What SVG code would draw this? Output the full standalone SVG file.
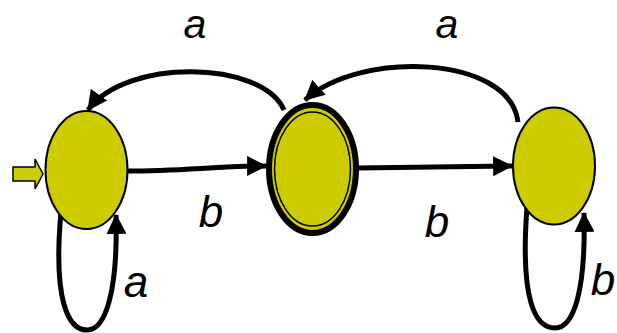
<svg xmlns="http://www.w3.org/2000/svg" width="617" height="333" viewBox="0 0 617 333">
<defs>
<style>
.st{fill:#CCCC00;stroke:#000;stroke-width:2}
.e{fill:none;stroke:#000;stroke-width:5;marker-end:url(#ah)}
.lbl{font-family:"Liberation Sans",Arial,sans-serif;font-style:italic;font-size:44px;fill:#000;text-anchor:middle}
.top{font-size:41px}
</style>
<marker id="ah" markerUnits="userSpaceOnUse" markerWidth="20" markerHeight="20" refX="17" refY="9" orient="auto" viewBox="0 0 18 18">
<path d="M0,0 L18,9 L0,18 Z" fill="#000"/>
</marker>
</defs>
<rect width="617" height="333" fill="#fff"/>
<g id="connectors">
<path class="e" d="M61,212 C53,300 68,330 87,330 C106,330 118,290 116,215"/>
<path class="e" d="M527,207 C520,300 535,328 555,328 C574,328 586,290 584,213"/>
<path class="e" d="M284,110 C262,60 125,58 88,110"/>
<path class="e" d="M518,122 C510,55 360,50 305,100"/>
<path class="e" d="M128,171 C180,171 220,166 266,166"/>
<path class="e" d="M358,168 L512,166"/>
</g>
<g id="start">
<polygon points="13,167 35,167 35,159 43,174 35,189 35,181 13,181" fill="#CCCC00" stroke="#000" stroke-width="1.5"/>
</g>
<g id="q0">
<ellipse class="st" cx="86.5" cy="170" rx="41" ry="59"/>
</g>
<g id="q1">
<ellipse cx="312.5" cy="169" rx="43.5" ry="64" fill="#CCCC00" stroke="#000" stroke-width="6"/>
<ellipse cx="312.5" cy="169" rx="38" ry="57" fill="#CCCC00" stroke="#000" stroke-width="1.5"/>
</g>
<g id="q2">
<ellipse class="st" cx="554" cy="166" rx="41" ry="58.5"/>
</g>
<g id="labels">
<text class="lbl top" x="195" y="38">a</text>
<text class="lbl top" x="447" y="38">a</text>
<text class="lbl" x="211" y="227">b</text>
<text class="lbl" x="437" y="237">b</text>
<text class="lbl" x="136" y="297">a</text>
<text class="lbl" x="603" y="295">b</text>
</g>
</svg>
